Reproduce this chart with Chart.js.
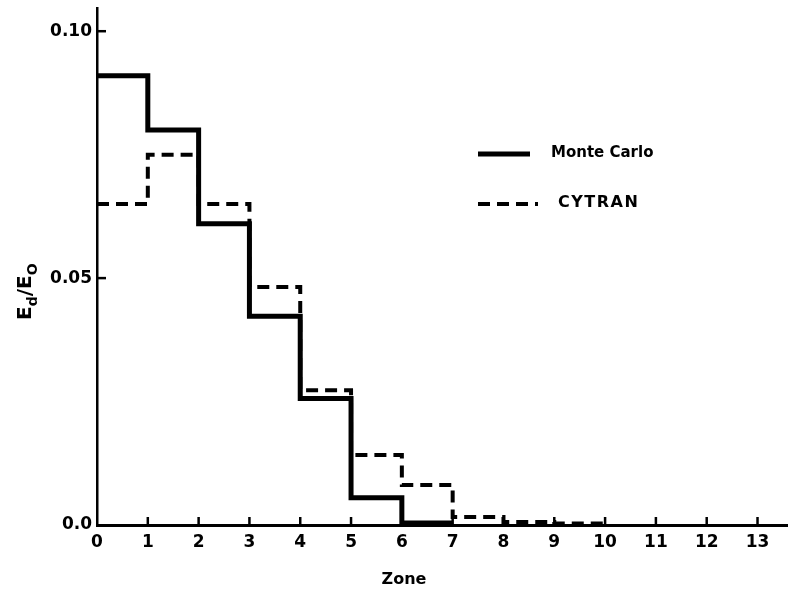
<!DOCTYPE html>
<html>
<head>
<meta charset="utf-8">
<script src="https://cdn.jsdelivr.net/npm/chart.js@4.4.1/dist/chart.umd.min.js"></script>
<style>
  html, body { margin: 0; padding: 0; background: #fff; }
  #wrap { width: 788px; height: 596px; position: relative; }
</style>
</head>
<body>
<div id="wrap"><canvas id="mycanvas" width="788" height="596"></canvas></div>
<script>
// energy deposited per zone, E_d/E_0
var zones = [0, 1, 2, 3, 4, 5, 6, 7, 8, 9, 10, 11, 12, 13];
var monteCarlo = [0.091, 0.080, 0.061, 0.0423, 0.0256, 0.0055, 0.0004];
var cytran = [0.065, 0.075, 0.065, 0.0482, 0.0273, 0.0142, 0.0081, 0.0016, 0.0006, 0.0003];
var yTicks = [0, 0.05, 0.10];
var yTickLabels = ['0.0', '0.05', '0.10'];

var FONT = '"DejaVu Sans", "Liberation Sans", sans-serif';

// histogram steps: each zone value holds from i to i+1
function steps(vals)
{
	var pts = [];
	for (var i = 0; i < vals.length; i++) {
		pts.push({x: zones[i], y: vals[i]});
	}
	pts.push({x: zones[vals.length], y: vals[vals.length - 1]});
	return pts;
}

var extras = {
	id: 'extras',
	afterDraw: function(chart)
	{
		var c = chart.ctx;
		var xs = chart.scales.x, ys = chart.scales.y;
		var y0 = ys.getPixelForValue(0), x0 = xs.getPixelForValue(0);
		c.save();
		c.strokeStyle = '#000';
		c.lineWidth = 2.5;
		c.lineCap = 'butt';
		// inward tick marks
		zones.forEach(function(z) {
			if (z === 0) return;
			var px = xs.getPixelForValue(z);
			c.beginPath(); c.moveTo(px, y0); c.lineTo(px, y0 - 8); c.stroke();
		});
		yTicks.forEach(function(t) {
			if (t === 0) return;
			var py = ys.getPixelForValue(t);
			c.beginPath(); c.moveTo(x0, py); c.lineTo(x0 + 9, py); c.stroke();
		});

		// legend
		var ds = chart.data.datasets;
		var rows = [
			{y: 154, x1: 478, x2: 530, tx: 551, sp: '0px', size: 15},
			{y: 204, x1: 478, x2: 538, tx: 558, sp: '1.5px', size: 16}
		];
		c.fillStyle = '#000';
		c.textBaseline = 'middle';
		for (var i = 0; i < ds.length; i++) {
			var r = rows[i];
			c.lineWidth = ds[i].borderWidth;
			c.setLineDash(ds[i].borderDash || []);
			c.beginPath(); c.moveTo(r.x1, r.y); c.lineTo(r.x2, r.y); c.stroke();
			c.setLineDash([]);
			c.font = 'bold ' + r.size + 'px ' + FONT;
			c.letterSpacing = r.sp;
			c.fillText(ds[i].label, r.tx, r.y - 1);
		}
		c.letterSpacing = '0px';

		// x axis title
		c.textAlign = 'center';
		c.font = 'bold 16px ' + FONT;
		c.fillText('Zone', 404, 580);

		// y axis title E_d/E_0, rotated
		c.translate(26, 287);
		c.rotate(-Math.PI / 2);
		c.textAlign = 'left';
		c.font = 'bold 20px ' + FONT;
		var x = -33;
		c.fillText('E', x, 0); x += c.measureText('E').width;
		c.font = 'bold 14px ' + FONT;
		c.fillText('d', x, 7); x += c.measureText('d').width;
		c.font = 'bold 20px ' + FONT;
		c.fillText('/E', x, 0); x += c.measureText('/E').width;
		c.font = 'bold 14px ' + FONT;
		c.fillText('O', x, 7);
		c.restore();
	}
};

var ctx = document.getElementById('mycanvas');
var chart = new Chart(ctx, {
	type: 'line',
	data: {
		datasets: [{
			label: 'Monte Carlo',
			data: steps(monteCarlo),
			stepped: 'before',
			borderColor: '#000',
			borderWidth: 5,
			pointRadius: 0,
			fill: false
		}, {
			label: 'CYTRAN',
			data: steps(cytran),
			stepped: 'before',
			borderColor: '#000',
			borderWidth: 4,
			borderDash: [12, 7],
			pointRadius: 0,
			fill: false
		}]
	},
	options: {
		responsive: false,
		animation: false,
		layout: {padding: {top: 8, right: 0, left: 0, bottom: 0}},
		plugins: {legend: {display: false}, tooltip: {enabled: false}},
		scales: {
			x: {
				type: 'linear',
				min: 0,
				max: 13.6,
				afterBuildTicks: function(s) { s.ticks = zones.map(function(z) { return {value: z}; }); },
				afterFit: function(s) { s.height = 71; },
				grid: {display: false, drawTicks: false},
				border: {display: true, color: '#000', width: 3},
				ticks: {color: '#000', padding: 7, maxRotation: 0, autoSkip: false,
					font: {family: FONT, size: 17, weight: 'bold'}}
			},
			y: {
				type: 'linear',
				min: 0,
				max: 0.1047,
				afterBuildTicks: function(s) { s.ticks = yTicks.map(function(t) { return {value: t}; }); },
				afterFit: function(s) { s.width = 97; s.paddingTop = 0; },
				grid: {display: false, drawTicks: false},
				border: {display: true, color: '#000', width: 2.5},
				ticks: {color: '#000', padding: 5,
					callback: function(v, i) { return yTickLabels[i]; },
					font: {family: FONT, size: 17, weight: 'bold'}}
			}
		}
	},
	plugins: [extras]
});
</script>
</body>
</html>
